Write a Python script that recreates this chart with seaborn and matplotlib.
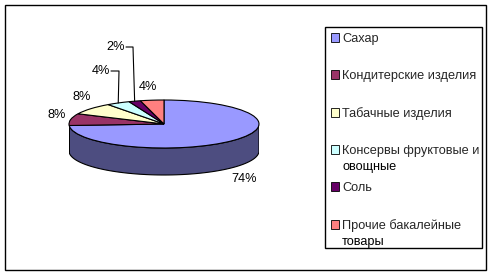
import numpy as np
import matplotlib
matplotlib.use("Agg")
import matplotlib.pyplot as plt
import seaborn as sns
from matplotlib.patches import Rectangle, Patch, Polygon
from matplotlib.colors import to_rgb

# ---- data ----
categories = ["Сахар", "Кондитерские изделия", "Табачные изделия",
              "Консервы фруктовые и овощные", "Соль", "Прочие бакалейные товары"]
legend_first = ["Сахар", "Кондитерские изделия", "Табачные изделия",
                "Консервы фруктовые и", "Соль", "Прочие бакалейные"]
legend_second = {3: "овощные", 5: "товары"}
values = [74, 8, 8, 4, 2, 4]
colors = ["#9999FF", "#993366", "#FFFFCC", "#CCFFFF", "#660066", "#FF8080"]
pct_labels = [f"{v}%" for v in values]

sns.set_theme(style="white")
plt.rcParams["font.family"] = ["Liberation Sans", "DejaVu Sans"]
FS = 9.2

W, H = 493, 276
fig = plt.figure(figsize=(W / 100, H / 100), dpi=100)
fig.patch.set_facecolor("white")


def fx(px):
    return px / W


def fy(py):
    return 1 - py / H


# ---- pie geometry (pixels) ----
cx, cy, rx, ry, depth = 164, 124, 95, 24, 27
extra = 4
ax = fig.add_axes([fx(cx - rx), fy(cy + ry + depth + extra),
                   2 * rx / W, (2 * ry + depth + extra) / H])

wedges, _ = ax.pie(values, colors=colors, startangle=90, counterclock=False,
                   radius=1, center=(0, 0),
                   wedgeprops=dict(edgecolor="black", linewidth=0.8, zorder=3))
ax.set_aspect("auto")
ax.set_xlim(-1, 1)
ax.set_ylim(-1 - (depth + extra) / ry, 1)
ax.axis("off")

d = depth / ry
# side walls (front half only)
for w, c in zip(wedges, colors):
    t1, t2 = w.theta1, w.theta2
    dark = tuple(np.array(to_rgb(c)) * 0.5)
    for k in (-1, 0, 1):
        lo, hi = -180 + 360 * k, 0 + 360 * k
        a, b = max(t1, lo), min(t2, hi)
        if b > a:
            ts = np.radians(np.linspace(a, b, 80))
            top = np.column_stack([np.cos(ts), np.sin(ts)])
            bot = np.column_stack([np.cos(ts[::-1]), np.sin(ts[::-1]) - d])
            ax.add_patch(Polygon(np.vstack([top, bot]), closed=True,
                                 facecolor=dark, edgecolor="black",
                                 linewidth=0.8, zorder=1))

# ---- percentage labels ----
label_px = [(244, 179), (57, 115), (82, 97), (101, 71), (116, 47), (147.5, 87)]
for (px, py), s in zip(label_px, pct_labels):
    ax.text((px - cx) / rx, (cy - py) / ry, s, ha="center", va="center",
            fontsize=FS, color="black", clip_on=False)

# leader lines for small slices
leader_px = {3: (111, 119), 4: (126, 133)}
for i, (xa, xb) in leader_px.items():
    w = wedges[i]
    mid = np.radians((w.theta1 + w.theta2) / 2)
    ly = (cy - label_px[i][1]) / ry
    ax.plot([(xa - cx) / rx, (xb - cx) / rx, np.cos(mid)],
            [ly, ly, np.sin(mid)], color="black", lw=0.8, clip_on=False,
            zorder=4)

# ---- legend ----
handles = [Patch(facecolor=c, edgecolor="black", linewidth=0.6) for c in colors]
leg = fig.legend(handles, legend_first, loc="upper left",
                 bbox_to_anchor=(fx(331), fy(33)), frameon=False,
                 borderpad=0, borderaxespad=0, handlelength=0.62,
                 handleheight=0.62, handletextpad=0.25, labelspacing=1.96,
                 fontsize=FS)
fig.canvas.draw()
for i, s in legend_second.items():
    bb = leg.get_texts()[i].get_window_extent()
    fig.text(bb.x0 / W, (bb.y0 - 16) / H, s, ha="left", va="bottom",
             fontsize=FS, color="black")

fig.add_artist(Rectangle((fx(325), fy(248)), (482 - 325) / W, (248 - 27) / H,
                         transform=fig.transFigure, fill=False,
                         edgecolor="black", linewidth=1))
fig.add_artist(Rectangle((fx(5), fy(270)), (486 - 5) / W, (270 - 5) / H,
                         transform=fig.transFigure, fill=False,
                         edgecolor="black", linewidth=1))

fig.savefig("out.png", dpi=100, facecolor="white")
